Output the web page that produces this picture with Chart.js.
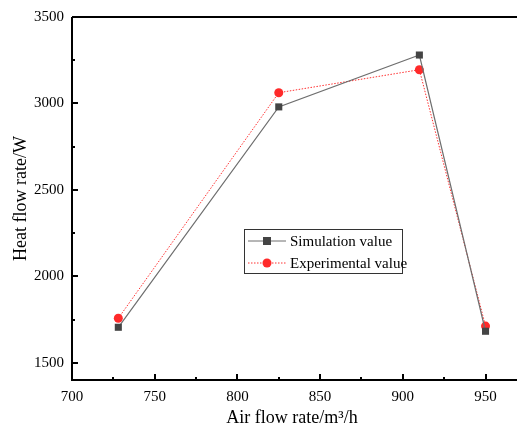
<!DOCTYPE html>
<html>
<head>
<meta charset="utf-8">
<script src="https://cdn.jsdelivr.net/npm/chart.js@4.4.1/dist/chart.umd.min.js"></script>
<style>
  html, body { margin: 0; padding: 0; background: #fff; }
  #wrap { width: 517px; height: 429px; }
</style>
</head>
<body>
<div id="wrap"><canvas id="myChart" width="517" height="429"></canvas></div>
<script>
// air flow rate (m3/h)
const airFlow = [728, 825, 910, 950];
// heat flow rate (W)
const simulation = [1705, 2980, 3280, 1682];
const experimental = [1757, 3062, 3195, 1712];

const xTicks = [700, 750, 800, 850, 900, 950];
const yTicks = [1500, 2000, 2500, 3000, 3500];
const xMinor = [725, 775, 825, 875, 925];
const yMinor = [1750, 2250, 2750, 3250];

const FONT = "'Liberation Serif', 'Times New Roman', serif";

const ctx = document.getElementById('myChart');

// axis frame, inward ticks and the legend box
const framePlugin = {
  id: 'frame',
  afterDraw(chart) {
    const c = chart.ctx;
    const area = chart.chartArea;
    const xs = chart.scales.x, ys = chart.scales.y;
    c.save();
    c.strokeStyle = '#000';
    c.lineWidth = 2;
    c.beginPath();
    c.moveTo(area.left, area.top);
    c.lineTo(area.left, area.bottom);
    c.lineTo(517, area.bottom);
    c.moveTo(area.left, area.top);
    c.lineTo(517, area.top);
    c.stroke();

    c.lineWidth = 2;
    c.beginPath();
    xTicks.forEach(v => { const p = Math.round(xs.getPixelForValue(v)); c.moveTo(p, area.bottom); c.lineTo(p, area.bottom - 6); });
    xMinor.forEach(v => { const p = Math.round(xs.getPixelForValue(v)); c.moveTo(p, area.bottom); c.lineTo(p, area.bottom - 3); });
    yTicks.forEach(v => { const p = Math.round(ys.getPixelForValue(v)); c.moveTo(area.left, p); c.lineTo(area.left + 6, p); });
    yMinor.forEach(v => { const p = Math.round(ys.getPixelForValue(v)); c.moveTo(area.left, p); c.lineTo(area.left + 3, p); });
    c.stroke();

    // legend
    const bx = 244, by = 229, bw = 158, bh = 44;
    c.lineWidth = 1;
    c.strokeStyle = '#333';
    c.strokeRect(bx + 0.5, by + 0.5, bw, bh);
    c.font = '15px ' + FONT;
    c.fillStyle = '#000';
    c.textBaseline = 'middle';
    chart.data.datasets.forEach((ds, i) => {
      const yy = by + 12 + i * 22;
      c.strokeStyle = ds.borderColor;
      c.lineWidth = 1;
      c.setLineDash(ds.borderDash || []);
      c.beginPath();
      c.moveTo(bx + 4, yy);
      c.lineTo(bx + 42, yy);
      c.stroke();
      c.setLineDash([]);
      c.fillStyle = ds.pointBackgroundColor;
      if (ds.pointStyle === 'rect') {
        c.fillRect(bx + 19, yy - 4, 8, 8);
      } else {
        c.beginPath();
        c.arc(bx + 23, yy, 4.5, 0, Math.PI * 2);
        c.fill();
      }
      c.fillStyle = '#000';
      c.fillText(ds.label, bx + 46, yy + 1);
    });
    c.restore();
  }
};

const myChart = new Chart(ctx, {
  type: 'line',
  data: {
    datasets: [
      {
        label: 'Simulation value',
        data: airFlow.map((x, i) => ({ x: x, y: simulation[i] })),
        borderColor: '#6e6e6e',
        borderWidth: 1.2,
        pointStyle: 'rect',
        pointRadius: 5,
        pointBackgroundColor: '#444',
        pointBorderColor: '#444',
        pointBorderWidth: 0,
        tension: 0
      },
      {
        label: 'Experimental value',
        data: airFlow.map((x, i) => ({ x: x, y: experimental[i] })),
        borderColor: '#ff3030',
        borderWidth: 1,
        borderDash: [1.5, 1.5],
        pointStyle: 'circle',
        pointRadius: 4.5,
        pointBackgroundColor: '#ff2a2a',
        pointBorderColor: '#ff2a2a',
        pointBorderWidth: 0,
        tension: 0
      }
    ]
  },
  options: {
    responsive: false,
    animation: false,
    layout: { padding: { top: 14, right: 0, left: 10, bottom: 0 } },
    plugins: {
      legend: { display: false },
      tooltip: { enabled: false }
    },
    scales: {
      x: {
        type: 'linear',
        min: 700,
        max: 966,
        afterBuildTicks: s => { s.ticks = xTicks.map(v => ({ value: v })); },
        afterFit: s => { s.height = 49; },
        grid: { display: false, drawTicks: false },
        border: { display: false },
        ticks: { color: '#000', padding: 8, font: { family: FONT, size: 15 }, callback: v => String(v) },
        title: { display: true, text: 'Air flow rate/m³/h', color: '#000', padding: { top: 3, bottom: 0 }, font: { family: FONT, size: 18 } }
      },
      y: {
        min: 1400,
        max: 3500,
        afterBuildTicks: s => { s.ticks = yTicks.map(v => ({ value: v })); },
        afterFit: s => { s.width = 62; },
        grid: { display: false, drawTicks: false },
        border: { display: false },
        ticks: { color: '#000', padding: 8, font: { family: FONT, size: 15 }, callback: v => String(v) },
        title: { display: true, text: 'Heat flow rate/W', color: '#000', padding: { top: 0, bottom: 0 }, font: { family: FONT, size: 18 } }
      }
    }
  },
  plugins: [framePlugin]
});
</script>
</body>
</html>
